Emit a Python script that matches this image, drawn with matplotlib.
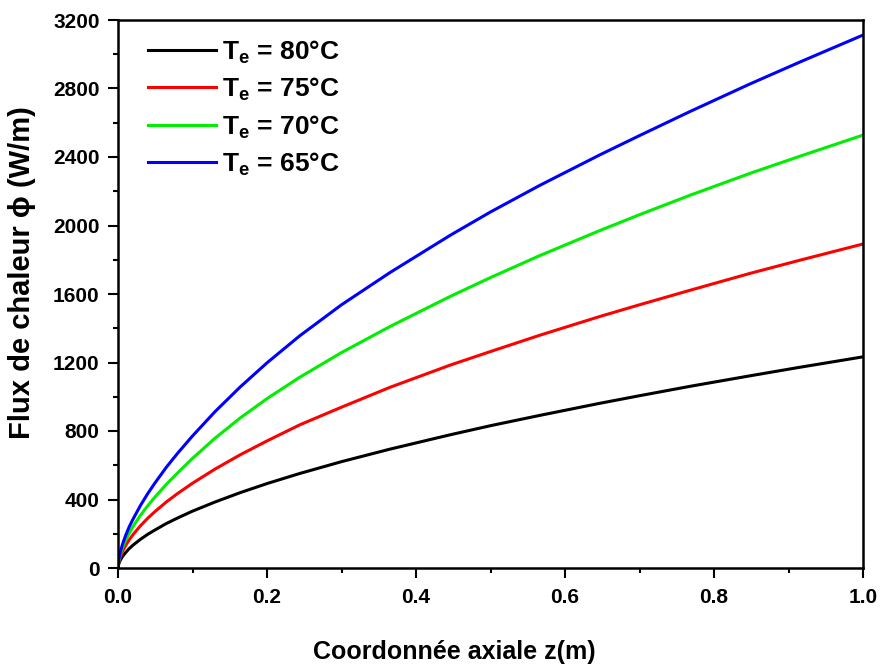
import numpy as np
import matplotlib
matplotlib.use('Agg')
import matplotlib.pyplot as plt
from matplotlib.ticker import MultipleLocator

plt.rcParams['font.family'] = ['Liberation Sans', 'DejaVu Sans']
plt.rcParams['font.weight'] = 'bold'
plt.rcParams['mathtext.fontset'] = 'custom'
plt.rcParams['mathtext.bf'] = 'Liberation Sans:bold'
plt.rcParams['mathtext.rm'] = 'Liberation Sans:bold'

# axial coordinate z (m)
z = [0.0, 0.001, 0.003, 0.006, 0.01, 0.015, 0.02, 0.03, 0.04, 0.05, 0.065,
     0.08, 0.1, 0.13, 0.164, 0.2, 0.244, 0.3, 0.365, 0.446, 0.5, 0.566,
     0.647, 0.7, 0.768, 0.848, 0.915, 1.0]

# heat flux (W/m)
phi_80 = [0, 24, 45, 67, 89, 113, 133, 167, 197, 223, 260,
          292, 332, 385, 440, 493, 552, 621, 694, 778, 831, 891,
          962, 1006, 1061, 1122, 1172, 1233]
phi_75 = [0, 34, 64, 96, 130, 164, 194, 246, 291, 331, 386,
          435, 495, 577, 661, 742, 836, 939, 1055, 1185, 1264, 1359,
          1469, 1537, 1622, 1720, 1797, 1892]
phi_70 = [0, 41, 79, 118, 160, 203, 241, 307, 364, 416, 489,
          555, 640, 757, 876, 989, 1114, 1258, 1410, 1586, 1696, 1824,
          1971, 2063, 2177, 2304, 2404, 2528]
phi_65 = [0, 47, 91, 138, 187, 240, 284, 364, 435, 499, 589,
          670, 771, 912, 1057, 1198, 1356, 1537, 1725, 1943, 2079, 2234,
          2413, 2525, 2666, 2826, 2954, 3112]

labels = [r'T$_\mathbf{e}$ = 80°C', r'T$_\mathbf{e}$ = 75°C',
          r'T$_\mathbf{e}$ = 70°C', r'T$_\mathbf{e}$ = 65°C']
colors = ['black', '#ff0000', '#00ee00', '#0000ff']

fig = plt.figure(figsize=(8.82, 6.68), dpi=100)
ax = fig.add_axes([118/882, 1 - 568/668, 745/882, 548/668])

for phi, lab, c in zip([phi_80, phi_75, phi_70, phi_65], labels, colors):
    ax.plot(z, phi, color=c, lw=2.2, label=lab)

ax.set_xlim(0, 1.0)
ax.set_ylim(0, 3200)
ax.xaxis.set_major_locator(MultipleLocator(0.2))
ax.xaxis.set_minor_locator(MultipleLocator(0.1))
ax.yaxis.set_major_locator(MultipleLocator(400))
ax.yaxis.set_minor_locator(MultipleLocator(200))
ax.set_xticks(np.arange(0, 1.01, 0.2))
ax.set_xticklabels(['%.1f' % v for v in np.arange(0, 1.01, 0.2)])

for s in ax.spines.values():
    s.set_linewidth(1.8)
ax.tick_params(which='major', direction='out', length=7.2, width=1.5,
               labelsize=15, top=False, right=False)
ax.tick_params(which='minor', direction='out', length=3.6, width=1.5,
               top=False, right=False)
ax.tick_params(axis='x', pad=7)
ax.tick_params(axis='y', pad=6)

ax.set_xlabel('Coordonnée axiale z(m)', fontsize=18, fontweight='bold')
ax.xaxis.set_label_coords(0.451, -0.131)
ax.set_ylabel('Flux de chaleur ϕ (W/m)', fontsize=21, fontweight='bold')
ax.yaxis.set_label_coords(-0.11, 0.54)

leg = ax.legend(loc='upper left', frameon=False, fontsize=19,
                handlelength=2.6, handletextpad=0.2, labelspacing=0.38,
                borderpad=0, borderaxespad=0, bbox_to_anchor=(0.04, 0.967))
for t in leg.get_texts():
    t.set_fontweight('bold')

fig.savefig('out.png', dpi=100)
